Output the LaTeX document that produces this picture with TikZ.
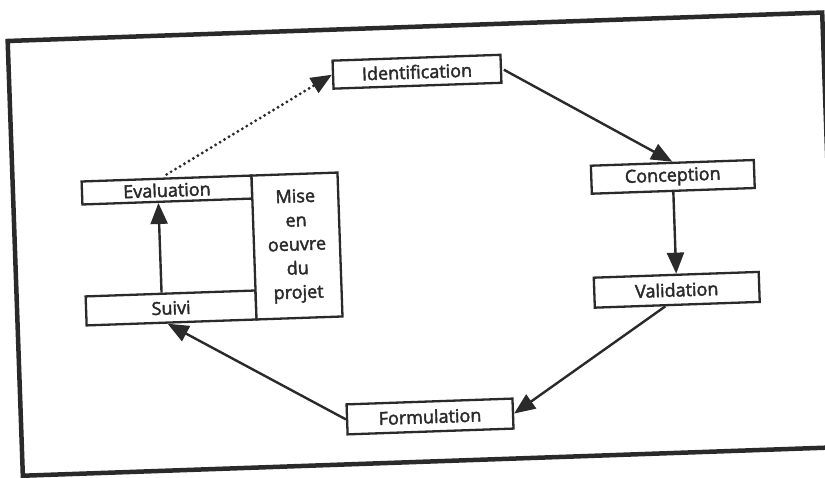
\documentclass[tikz,border=0pt]{standalone}
\usepackage{fontspec}
\setmainfont{Open Sans}
\newfontfamily\stagefont[FakeBold=2.2]{Open Sans}
\usetikzlibrary{arrows.meta}

\definecolor{ink}{HTML}{2A2A2A}

\tikzset{
    stage/.style={draw=ink, line width=2.3pt, fill=white, text=ink, inner sep=0pt,
        font=\stagefont\fontsize{18}{20}\selectfont},
    flow/.style={draw=ink, line width=2.4pt, -{Triangle[length=21pt,width=17pt]}},
    dotflow/.style={flow, line width=3.2pt, dash pattern=on 0pt off 5.2pt, line cap=round},
}

\begin{document}
\begin{tikzpicture}[x=1pt, y=-1pt]
        \useasboundingbox (0,0) rectangle (825,477);
        \fill[white] (0,0) rectangle (825,477);
    \begin{scope}[rotate around={2:(412,244)}, transform shape]
        % frame
        \draw[ink, line width=4.5pt] (15,27) rectangle (830,462);

        % cycle stages
        \node[stage, minimum width=168pt, minimum height=28pt] (ident) at (423,72) {Identification};
        \node[stage, minimum width=163pt, minimum height=28pt] (concep) at (675,186) {Conception};
        \node[stage, minimum width=165pt, minimum height=30pt] (valid) at (675,299) {Validation};
        \node[stage, minimum width=166pt, minimum height=30pt] (formul) at (424,417) {Formulation};

        % implementation block
        \node[stage, minimum width=170pt, minimum height=23pt] (evalu) at (169,181.5) {Evaluation};
        \node[stage, minimum width=170pt, minimum height=29pt] (suivi) at (169,299.5) {Suivi};
        \node[stage, minimum width=86pt, minimum height=144pt, align=center,
            font=\stagefont\fontsize{18}{24}\selectfont] (mise) at (297,242) {Mise\\en\\oeuvre\\du\\projet};

        % arrows
        \draw[flow, shorten <=2pt] (ident.east) -- (concep.north);
        \draw[flow] (concep.south) -- (valid.north);
        \draw[flow] ([xshift=-12pt]valid.south) -- (formul.east);
        \draw[flow] (formul.west) -- ([xshift=-4pt]suivi.south);
        \draw[flow] ([xshift=-9pt]suivi.north) -- ([xshift=-9pt]evalu.south);
        \draw[dotflow, shorten <=6pt] ([xshift=-5pt]evalu.north) -- (ident.west);
    \end{scope}
\end{tikzpicture}
\end{document}
